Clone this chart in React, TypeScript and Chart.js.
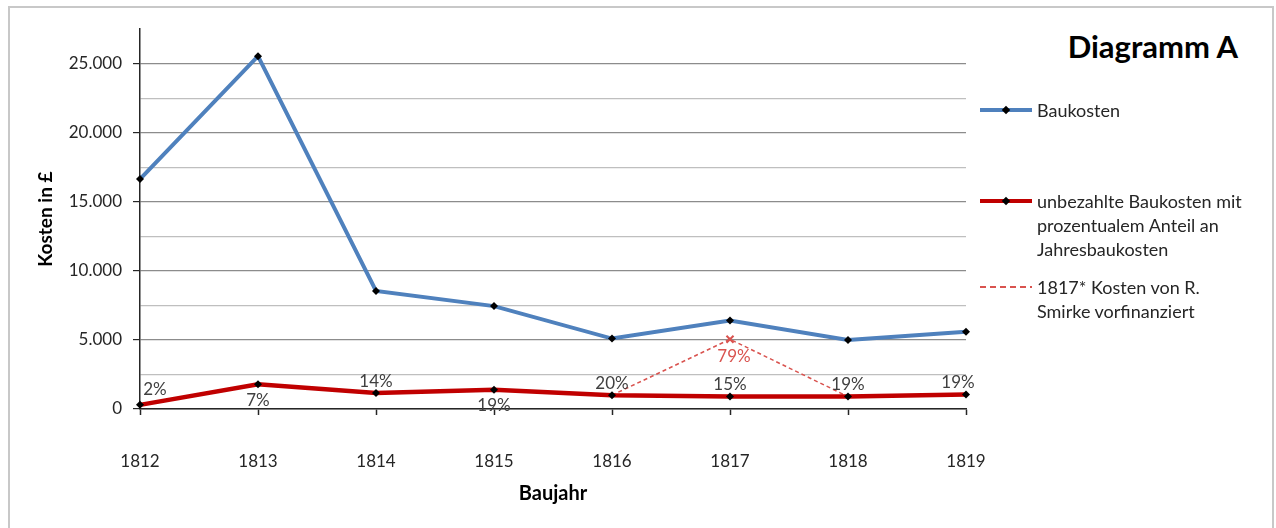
import React, { useEffect, useRef } from 'react';
import { Chart, registerables } from 'chart.js';

Chart.register(...registerables);

// ---- data ----
const years = ['1812', '1813', '1814', '1815', '1816', '1817', '1818', '1819'];
const baukosten = [16650, 25550, 8550, 7450, 5100, 6400, 5000, 5600];
const unbezahlt = [300, 1790, 1150, 1400, 1000, 900, 900, 1050];
const smirke: (number | null)[] = [null, null, null, null, 1000, 5050, 900, null];
const pctLabels = ['2%', '7%', '14%', '19%', '20%', '15%', '19%', '19%'];
const pctPlacement = ['right', 'below', 'above', 'below', 'above', 'above', 'above', 'left'];
const smirkeLabel = '79%';
const smirkeIndex = 5;
const yMax = 27500;
const yGridStep = 2500;
const yLabelStep = 5000;

const FONT = 'Lato, "Open Sans", sans-serif';

const fmt = (v: number) => v.toString().replace(/\B(?=(\d{3})+(?!\d))/g, '.');

const placementOffset: Record<string, [number, number]> = {
  right: [15, -15],
  below: [0, 16],
  above: [0, -12],
  left: [-8, -12],
};

const labelPlugin = {
  id: 'pctLabels',
  afterDatasetsDraw(chart: any) {
    const ctx = chart.ctx;
    ctx.save();
    ctx.font = `17px ${FONT}`;
    ctx.textAlign = 'center';
    ctx.textBaseline = 'middle';
    ctx.fillStyle = '#404040';
    const meta = chart.getDatasetMeta(1);
    meta.data.forEach((pt: any, i: number) => {
      const [dx, dy] = placementOffset[pctPlacement[i]];
      ctx.fillText(pctLabels[i], pt.x + dx, pt.y + dy);
    });
    const meta2 = chart.getDatasetMeta(2);
    const p = meta2.data[smirkeIndex];
    ctx.fillStyle = '#d9534f';
    ctx.fillText(smirkeLabel, p.x + 4, p.y + 17);
    ctx.restore();
  },
};

function ChartCanvas() {
  const ref = useRef<HTMLCanvasElement | null>(null);
  useEffect(() => {
    document.documentElement.style.overflow = 'hidden';
    if (!ref.current) return;
    const chart = new Chart(ref.current, {
      type: 'line',
      data: {
        labels: years,
        datasets: [
          {
            label: 'Baukosten',
            data: baukosten,
            borderColor: '#4f81bd',
            backgroundColor: '#4f81bd',
            borderWidth: 4,
            pointStyle: 'rectRot',
            pointRadius: 4,
            pointBackgroundColor: '#000',
            pointBorderColor: '#000',
            pointBorderWidth: 0,
            tension: 0,
          },
          {
            label: 'unbezahlte Baukosten',
            data: unbezahlt,
            borderColor: '#c00000',
            backgroundColor: '#c00000',
            borderWidth: 4.5,
            pointStyle: 'rectRot',
            pointRadius: 4,
            pointBackgroundColor: '#000',
            pointBorderColor: '#000',
            pointBorderWidth: 0,
            tension: 0,
          },
          {
            label: '1817* Kosten von R. Smirke vorfinanziert',
            data: smirke,
            borderColor: '#d9534f',
            backgroundColor: '#d9534f',
            borderWidth: 1.5,
            borderDash: [4, 3],
            pointStyle: 'crossRot',
            pointRadius: years.map((_, i) => (i === smirkeIndex ? 5 : 0)),
            pointBorderColor: '#d9534f',
            pointBorderWidth: 2,
            spanGaps: false,
            tension: 0,
          },
        ],
      },
      options: {
        responsive: false,
        animation: false,
        devicePixelRatio: 1,
        layout: { padding: { top: 21, right: 44, left: 0, bottom: 0 } },
        plugins: {
          legend: { display: false },
          tooltip: { enabled: false },
        },
        scales: {
          x: {
            type: 'category',
            offset: false,
            afterFit: (s: any) => {
              s.height = 119;
              s.paddingRight = 20;
              s.paddingLeft = 20;
            },
            border: { color: '#262626', width: 1.5 },
            grid: {
              drawOnChartArea: false,
              tickLength: 6,
              tickColor: '#262626',
              tickWidth: 1.5,
            },
            ticks: {
              padding: 36,
              color: '#262626',
              font: { family: FONT, size: 17 },
              maxRotation: 0,
            },
            title: {
              display: true,
              text: 'Baujahr',
              color: '#000',
              font: { family: FONT, size: 20, weight: 'bold' },
              padding: { top: 0, bottom: 22 },
            },
          },
          y: {
            min: 0,
            max: yMax,
            afterFit: (s: any) => {
              s.width = 130;
            },
            border: { color: '#262626', width: 1.5 },
            grid: {
              color: (c: any) =>
                c.tick && c.tick.value >= yMax
                  ? 'rgba(0,0,0,0)'
                  : c.tick && c.tick.value % yLabelStep === 0
                  ? '#8c8c8c'
                  : '#bfbfbf',
              lineWidth: 1.2,
              tickLength: 7,
              tickColor: (c: any) =>
                c.tick && c.tick.value % yLabelStep === 0 && c.tick.value < yMax ? '#262626' : 'rgba(0,0,0,0)',
            },
            ticks: {
              stepSize: yGridStep,
              padding: 11,
              color: '#262626',
              font: { family: FONT, size: 17 },
              callback: (v: any) => (Number(v) % yLabelStep === 0 && Number(v) < yMax ? fmt(Number(v)) : ''),
            },
            title: {
              display: true,
              text: 'Kosten in £',
              color: '#000',
              font: { family: FONT, size: 19, weight: 'bold' },
              padding: { top: 24, bottom: 0 },
            },
          },
        },
      },
      plugins: [labelPlugin],
    } as any);
    return () => chart.destroy();
  }, []);
  return (
    <canvas
      ref={ref}
      width={1000}
      height={520}
      style={{ position: 'absolute', left: 0, top: 0, width: 1000, height: 520 }}
    />
  );
}

const legendText: React.CSSProperties = {
  position: 'absolute',
  left: 1027,
  fontFamily: FONT,
  fontSize: 18,
  lineHeight: '24px',
  color: '#262626',
  whiteSpace: 'nowrap',
};

function LegendLine({ top, color }: { top: number; color: string }) {
  return (
    <>
      <div style={{ position: 'absolute', left: 970, top: top - 2, width: 52, height: 4, background: color }} />
      <div
        style={{
          position: 'absolute',
          left: 993,
          top: top - 3,
          width: 6,
          height: 6,
          background: '#000',
          transform: 'rotate(45deg)',
        }}
      />
    </>
  );
}

export default function App() {
  return (
    <>
      <div
        style={{
          position: 'fixed',
          left: 10,
          top: 8,
          width: 1262,
          height: 530,
          background: '#fff',
          overflow: 'hidden',
        }}
      >
        <ChartCanvas />
        <div
          style={{
            position: 'absolute',
            left: 1000,
            width: 228,
            textAlign: 'right',
            top: 20,
            fontFamily: FONT,
            fontWeight: 'bold',
            fontSize: 31,
            lineHeight: '36px',
            color: '#000',
            whiteSpace: 'nowrap',
          }}
        >
          Diagramm A
        </div>
        <LegendLine top={102} color="#4f81bd" />
        <div style={{ ...legendText, top: 90 }}>Baukosten</div>
        <LegendLine top={193} color="#c00000" />
        <div style={{ ...legendText, top: 181 }}>
          unbezahlte Baukosten mit
          <br />
          prozentualem Anteil an
          <br />
          Jahresbaukosten
        </div>
        <svg style={{ position: 'absolute', left: 970, top: 276 }} width={54} height={6}>
          <line x1={0} y1={3} x2={52} y2={3} stroke="#d9534f" strokeWidth={2} strokeDasharray="6 4" />
        </svg>
        <div style={{ ...legendText, top: 267 }}>
          1817* Kosten von R.
          <br />
          Smirke vorfinanziert
        </div>
      </div>
      <div
        style={{
          position: 'fixed',
          left: 8,
          top: 6,
          width: 1266,
          height: 540,
          border: '2px solid #c8c8c8',
          boxSizing: 'border-box',
          pointerEvents: 'none',
        }}
      />
    </>
  );
}
